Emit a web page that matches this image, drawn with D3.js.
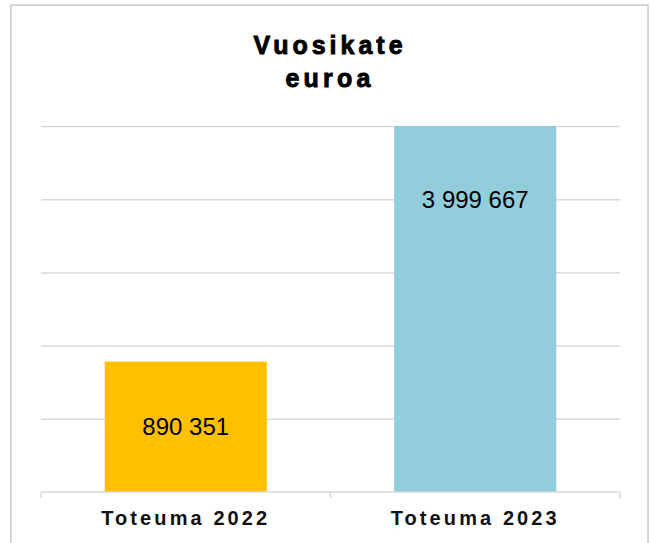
<!DOCTYPE html>
<html>
<head>
<meta charset="utf-8">
<script src="https://cdn.jsdelivr.net/npm/d3@7"></script>
<style>
  body { margin: 0; background: #fff; }
  text { font-family: "Liberation Sans", Arial, sans-serif; }
</style>
</head>
<body>
<div class="graph-div"></div>
<script>
var categories = ["Toteuma 2022", "Toteuma 2023"];
var values = [890351, 3999667];
var barColors = ["#FFC000", "#92CDDC"];
var titleText = "Vuosikate";
var subtitleText = "euroa";

// axis range (bars are not drawn from zero)
var axisMin = -830000;
var axisMax = 4000000;
const gridSteps = 5;

var outerWidth = 650;
var outerHeight = 543;
var margin = {left: 41, top: 126, right: 30, bottom: 51};
var innerWidth = outerWidth - margin.left - margin.right;
var innerHeight = outerHeight - margin.top - margin.bottom;

var svg = d3.select(".graph-div").append("svg")
    .attr("width", outerWidth)
    .attr("height", outerHeight);

// chart frame
svg.append("rect")
    .attr("x", 11).attr("y", 5)
    .attr("width", 637).attr("height", 560)
    .attr("fill", "none")
    .attr("stroke", "#c8c8c8")
    .attr("stroke-width", 1.5);

svg.append("text")
    .attr("x", 330).attr("y", 54)
    .attr("text-anchor", "middle")
    .attr("font-size", 25).attr("font-weight", "bold")
    .attr("letter-spacing", 4)
    .attr("stroke", "#000").attr("stroke-width", 0.9)
    .text(titleText);

svg.append("text")
    .attr("x", 330).attr("y", 87)
    .attr("text-anchor", "middle")
    .attr("font-size", 25).attr("font-weight", "bold")
    .attr("letter-spacing", 4.2)
    .attr("stroke", "#000").attr("stroke-width", 0.9)
    .text(subtitleText);

var g = svg.append("g")
    .attr("transform", "translate(" + margin.left + "," + margin.top + ")");

var xScale = d3.scaleBand()
    .domain(categories)
    .range([0, innerWidth])
    .paddingInner(0.44)
    .paddingOuter(0.22);

var yScale = d3.scaleLinear()
    .domain([axisMin, axisMax])
    .range([innerHeight, 0]);

var gridValues = d3.range(gridSteps + 1).map(function(i) {
  return axisMin + i * (axisMax - axisMin) / gridSteps;
});

const yAxis = d3.axisLeft(yScale)
    .tickValues(gridValues.slice(1))
    .tickSize(-innerWidth)
    .tickFormat("");

var yAxisG = g.append("g").call(yAxis);
yAxisG.select(".domain").remove();
yAxisG.selectAll("line").attr("stroke", "#d9d9d9").attr("stroke-width", 1.5);

g.selectAll(".bar")
    .data(values)
    .enter().append("rect")
    .attr("class", "bar")
    .attr("x", function(d, i) { return xScale(categories[i]); })
    .attr("y", function(d) { return yScale(d); })
    .attr("width", xScale.bandwidth())
    .attr("height", function(d) { return innerHeight - yScale(d); })
    .attr("fill", function(d, i) { return barColors[i]; });

// x axis with ticks on the category boundaries
var xAxisG = g.append("g").attr("transform", "translate(0," + innerHeight + ")");
xAxisG.append("line")
    .attr("x1", 0).attr("x2", innerWidth)
    .attr("stroke", "#d9d9d9").attr("stroke-width", 1.5);
xAxisG.selectAll(".tick")
    .data(d3.range(categories.length + 1))
    .enter().append("line")
    .attr("x1", function(i) { return i * xScale.step(); })
    .attr("x2", function(i) { return i * xScale.step(); })
    .attr("y1", 0).attr("y2", 6)
    .attr("stroke", "#d9d9d9").attr("stroke-width", 1.5);
xAxisG.selectAll(".cat")
    .data(categories)
    .enter().append("text")
    .attr("x", function(d) { return xScale(d) + xScale.bandwidth() / 2; })
    .attr("y", 33)
    .attr("text-anchor", "middle")
    .attr("font-size", 20).attr("font-weight", "bold")
    .attr("letter-spacing", 3.1)
    .attr("fill", "#111")
    .text(function(d) { return d; });

var fmt = d3.formatLocale({decimal: ",", thousands: " ", grouping: [3], currency: ["", " €"]}).format(",d");

g.selectAll(".label")
    .data(values)
    .enter().append("text")
    .attr("x", function(d, i) { return xScale(categories[i]) + xScale.bandwidth() / 2; })
    .attr("y", function(d) {
      var top = yScale(d);
      return Math.min((top + innerHeight) / 2, top + 73);
    })
    .attr("dy", "0.36em")
    .attr("text-anchor", "middle")
    .attr("font-size", 24)
    .attr("fill", "#000")
    .text(function(d) { return fmt(d); });
</script>
</body>
</html>
